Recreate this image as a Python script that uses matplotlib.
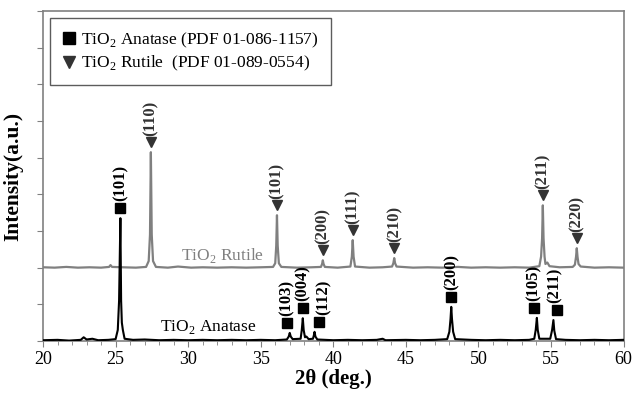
import matplotlib
matplotlib.use("Agg")
import matplotlib.pyplot as plt
from matplotlib.lines import Line2D
from matplotlib.ticker import MultipleLocator, NullFormatter

# XRD pattern vertices (2theta in deg, intensity in a.u.)
rutile_2theta = [20.0, 20.8, 21.6, 22.4, 23.2, 24.0, 24.55, 24.65, 24.75, 25.5, 26.4,
                 27.1, 27.28, 27.37, 27.43, 27.49, 27.58, 27.78, 28.6, 29.3, 30.2, 31.0,
                 32.0, 33.0, 34.0, 35.0, 35.85, 36.0, 36.07, 36.12, 36.17, 36.25, 36.42,
                 37.5, 38.5, 39.15, 39.23, 39.28, 39.33, 39.42, 40.3, 41.18, 41.28, 41.34,
                 41.40, 41.5, 42.5, 43.4, 44.05, 44.14, 44.2, 44.26, 44.36, 45.5, 46.5,
                 47.5, 48.6, 49.5, 50.5, 51.5, 52.5, 53.5, 54.2, 54.32, 54.39, 54.44,
                 54.49, 54.56, 54.62, 54.75, 54.9, 55.6, 56.5, 56.65, 56.73, 56.78, 56.83,
                 56.9, 57.05, 58.0, 59.0, 60.0]
rutile_int = [2.01, 2.0, 2.02, 2.0, 2.01, 2.0, 2.02, 2.07, 2.02, 2.01, 2.0,
              2.02, 2.18, 2.9, 5.15, 2.9, 2.18, 2.02, 2.0, 2.03, 2.0, 2.01,
              2.0, 2.01, 2.0, 2.01, 2.02, 2.12, 2.6, 3.43, 2.6, 2.12, 2.02,
              2.0, 2.01, 2.02, 2.1, 2.2, 2.1, 2.02, 2.0, 2.03, 2.3, 2.75,
              2.3, 2.03, 2.0, 2.01, 2.03, 2.12, 2.26, 2.12, 2.03, 2.0, 2.01,
              2.0, 2.02, 2.0, 2.01, 2.0, 2.01, 2.0, 2.04, 2.3, 2.8, 3.7,
              2.8, 2.3, 2.1, 2.14, 2.04, 2.01, 2.02, 2.08, 2.3, 2.53, 2.3,
              2.1, 2.03, 2.0, 2.01, 2.0]

anatase_2theta = [20.0, 21.0, 21.8, 22.6, 22.8, 23.0, 23.4, 23.8, 24.5, 25.0, 25.15,
                  25.24, 25.33, 25.38, 25.43, 25.5, 25.62, 26.2, 27.0, 28.0, 29.0, 30.0,
                  31.0, 32.0, 33.0, 34.0, 35.0, 36.0, 36.8, 36.93, 37.0, 37.07, 37.2,
                  37.75, 37.83, 37.9, 37.96, 38.05, 38.15, 38.3, 38.6, 38.66, 38.71, 38.77,
                  38.9, 40.0, 41.0, 42.0, 43.0, 43.4, 43.6, 45.0, 46.0, 47.0, 47.85,
                  48.0, 48.08, 48.13, 48.18, 48.26, 48.4, 49.5, 50.5, 51.5, 52.5, 53.5,
                  53.85, 53.95, 54.03, 54.09, 54.2, 54.95, 55.08, 55.17, 55.23, 55.35, 56.0,
                  57.0, 58.0, 59.0, 60.0]
anatase_int = [0.02, 0.03, 0.01, 0.03, 0.1, 0.04, 0.06, 0.02, 0.03, 0.05, 0.3,
               1.1, 3.35, 1.1, 0.5, 0.3, 0.06, 0.03, 0.04, 0.02, 0.03, 0.02,
               0.03, 0.02, 0.03, 0.02, 0.03, 0.02, 0.04, 0.12, 0.22, 0.12, 0.05,
               0.06, 0.3, 0.62, 0.3, 0.1, 0.12, 0.05, 0.06, 0.15, 0.25, 0.12,
               0.04, 0.02, 0.03, 0.02, 0.03, 0.06, 0.02, 0.03, 0.02, 0.03, 0.05,
               0.25, 0.6, 0.93, 0.6, 0.25, 0.05, 0.03, 0.02, 0.03, 0.02, 0.03,
               0.06, 0.3, 0.63, 0.3, 0.06, 0.06, 0.3, 0.57, 0.28, 0.05, 0.03,
               0.02, 0.03, 0.02, 0.03]

# indexed reflections
rutile_peaks = [27.43, 36.12, 39.28, 41.34, 44.2, 54.44, 56.78]
rutile_tops = [5.15, 3.43, 2.2, 2.75, 2.26, 3.7, 2.53]
rutile_hkl = ["(110)", "(101)", "(200)", "(111)", "(210)", "(211)", "(220)"]

anatase_peaks = [25.33, 37.0, 37.9, 38.71, 48.13, 54.03, 55.17]
anatase_tops = [3.35, 0.22, 0.62, 0.25, 0.93, 0.63, 0.57]
anatase_hkl = ["(101)", "(103)", "(004)", "(112)", "(200)", "(105)", "(211)"]

plt.rcParams['font.family'] = ['Liberation Serif', 'DejaVu Serif']
plt.rcParams['mathtext.fontset'] = 'custom'
plt.rcParams['mathtext.rm'] = 'Liberation Serif'

fig = plt.figure(figsize=(6.33, 3.96), dpi=100)
ax = fig.add_axes([0.068, 0.139, 0.917, 0.833])

ax.plot(rutile_2theta, rutile_int, color='#808080', lw=1.6, zorder=2)
ax.plot(anatase_2theta, anatase_int, color='black', lw=1.5, zorder=3)

# marker / label shifts so neighbouring labels don't collide
mark_dx = {"(103)": -0.2, "(112)": 0.3, "(105)": -0.2, "(211)": 0.28}
text_dx = {"(103)": -0.2, "(112)": 0.62, "(105)": -0.2, "(211)": 0.1}

for x, top, lab in zip(rutile_peaks, rutile_tops, rutile_hkl):
    my = top + 0.27
    ax.plot(x, my, marker='v', color='#333333', ms=7, zorder=4)
    ax.text(x, my + 0.18, lab, rotation=90, ha='center', va='bottom',
            fontsize=12, fontweight='bold', color='#333333')

for x, top, lab in zip(anatase_peaks, anatase_tops, anatase_hkl):
    my = top + 0.27
    ax.plot(x + mark_dx.get(lab, 0), my, marker='s', color='black', ms=7, zorder=4)
    ax.text(x + text_dx.get(lab, 0), my + 0.2, lab, rotation=90, ha='center',
            va='bottom', fontsize=12, fontweight='bold', color='black')

ax.text(32.4, 2.33, r"TiO$_2$ Rutile", color='#808080', fontsize=12.5,
        ha='center', va='center')
ax.text(31.4, 0.38, r"TiO$_2$ Anatase", color='black', fontsize=12.5,
        ha='center', va='center')

ax.set_xlim(20, 60)
ax.set_ylim(0, 9)
ax.xaxis.set_major_locator(MultipleLocator(5))
ax.xaxis.set_minor_locator(MultipleLocator(1))
ax.yaxis.set_major_locator(MultipleLocator(1))
ax.yaxis.set_major_formatter(NullFormatter())
ax.tick_params(axis='x', which='major', direction='out', length=4, color='#808080',
               labelsize=13, pad=3)
ax.tick_params(axis='x', which='minor', direction='out', length=3, color='#808080')
ax.tick_params(axis='y', which='major', direction='out', length=4, color='#808080')
for s in ax.spines.values():
    s.set_color('#808080')
    s.set_linewidth(1.2)

ax.set_xlabel("2θ (deg.)", fontsize=15, fontweight='bold', labelpad=1)
ax.set_ylabel("Intensity(a.u.)", fontsize=15.5, fontweight='bold', labelpad=7)

handles = [
    Line2D([], [], ls='none', marker='s', color='black', ms=8),
    Line2D([], [], ls='none', marker='v', color='#333333', ms=8),
]
labels = [r"TiO$_2$ Anatase (PDF 01-086-1157)", r"TiO$_2$ Rutile  (PDF 01-089-0554)"]
leg = ax.legend(handles, labels, loc='upper left', bbox_to_anchor=(0.012, 0.978),
                fontsize=12.5, frameon=True, fancybox=False, handlelength=0.8,
                handletextpad=0.3, borderpad=0.7, labelspacing=0.25, borderaxespad=0)
leg.get_frame().set_edgecolor('#333333')
leg.get_frame().set_linewidth(1.0)

fig.savefig("out.png", dpi=100)
